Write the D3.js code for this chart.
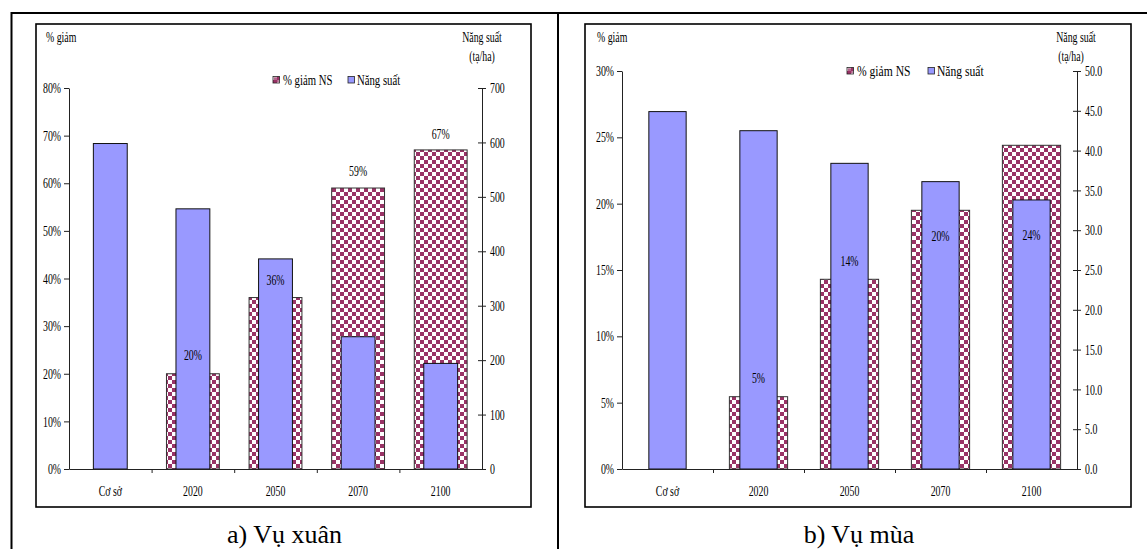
<!DOCTYPE html>
<html>
<head>
<meta charset="utf-8">
<script src="https://cdn.jsdelivr.net/npm/d3@7"></script>
<style>
  html, body { margin: 0; padding: 0; background: #fff; }
  svg { display: block; }
  text { font-family: "Liberation Serif", "Times New Roman", serif; fill: #000; }
</style>
</head>
<body>
<svg id="chart" width="1147" height="549"></svg>
<script>
// Categories shared by both seasons
const categories = ["Cơ sở", "2020", "2050", "2070", "2100"];

// Spring crop (Vụ xuân): yield in tạ/ha and yield reduction
const springYield = [598, 478, 386, 243, 194];
const springDrop = [null, 0.20, 0.36, 0.59, 0.67];

// Summer-autumn crop (Vụ mùa): yield in tạ/ha and yield reduction
const summerYield = [44.9, 42.5, 38.4, 36.1, 33.8];
const summerDrop = [null, 0.0545, 0.143, 0.195, 0.244];

// Axis tick values
const springPctTicks = [0, 0.1, 0.2, 0.3, 0.4, 0.5, 0.6, 0.7, 0.8];
const springYieldTicks = [0, 100, 200, 300, 400, 500, 600, 700];
const summerPctTicks = [0, 0.05, 0.10, 0.15, 0.20, 0.25, 0.30];
const summerYieldTicks = [0, 5, 10, 15, 20, 25, 30, 35, 40, 45, 50];

// Text labels
const legendLabels = ["% giảm NS", "Năng suất"];
const leftTitle = "% giảm";
const rightTitle = ["Năng suất", "(tạ/ha)"];
const captions = ["a) Vụ xuân", "b) Vụ mùa"];

const BLUE = "#9999ff";
const MAROON = "#993366";
const FS = 14.5;  // small chart text size
const SX = 0.68;  // horizontal squeeze of the small chart text

const svg = d3.select("#chart");

// Checkerboard fill for the reduction series
const defs = svg.append("defs");
const cell = 4;
const pat = defs.append("pattern").attr("id", "checker")
  .attr("patternUnits", "userSpaceOnUse")
  .attr("width", cell * 2).attr("height", cell * 2);
pat.append("rect").attr("width", cell * 2).attr("height", cell * 2).attr("fill", "#fff");
pat.append("rect").attr("width", cell).attr("height", cell).attr("fill", MAROON);
pat.append("rect").attr("x", cell).attr("y", cell).attr("width", cell).attr("height", cell).attr("fill", MAROON);

// Squeezed text helper
function label(g, x, y, s, anchor, size, sx) {
  return g.append("text")
    .attr("transform", `translate(${x},${y}) scale(${sx === undefined ? SX : sx},1)`)
    .attr("text-anchor", anchor || "start")
    .attr("font-size", size || FS)
    .text(s);
}

function squeezeAxisText(axisG) {
  axisG.selectAll(".tick text").each(function () {
    const t = d3.select(this);
    const x = +t.attr("x") || 0;
    t.attr("x", 0).attr("transform", `translate(${x},0) scale(${SX},1)`);
  });
}

// Outer table frame
svg.append("line").attr("x1", 11).attr("x2", 1147).attr("y1", 13).attr("y2", 13)
  .attr("stroke", "#000").attr("stroke-width", 2.2);
svg.append("line").attr("x1", 11.5).attr("x2", 11.5).attr("y1", 12).attr("y2", 549)
  .attr("stroke", "#000").attr("stroke-width", 2);
svg.append("line").attr("x1", 558).attr("x2", 558).attr("y1", 12).attr("y2", 549)
  .attr("stroke", "#000").attr("stroke-width", 2);

function drawPanel(cfg) {
  const g = svg.append("g");

  g.append("rect")
    .attr("x", cfg.box[0]).attr("y", cfg.box[1])
    .attr("width", cfg.box[2] - cfg.box[0]).attr("height", cfg.box[3] - cfg.box[1])
    .attr("fill", "#fff").attr("stroke", "#000").attr("stroke-width", 1.6);

  const x = d3.scaleBand().domain(categories).range([cfg.left, cfg.right]);
  const bw = x.bandwidth();
  const yPct = d3.scaleLinear().domain([0, d3.max(cfg.pctTicks)]).range([cfg.bottom, cfg.top]);
  const yVal = d3.scaleLinear().domain([0, d3.max(cfg.valTicks)]).range([cfg.bottom, cfg.top]);

  const dropRows = categories.map((c, i) => ({ c, i, v: cfg.drop[i] })).filter(d => d.v != null);
  const yieldRows = categories.map((c, i) => ({ c, i, v: cfg.yield[i] }));

  const wide = bw * 0.64, narrow = bw * 0.41;

  // Reduction bars (behind)
  g.append("g").selectAll("rect").data(dropRows).join("rect")
    .attr("x", d => x(d.c) + bw / 2 - wide / 2)
    .attr("width", wide)
    .attr("y", d => yPct(d.v))
    .attr("height", d => yPct(0) - yPct(d.v))
    .attr("fill", "url(#checker)")
    .attr("stroke", "#333").attr("stroke-width", 1);

  // Yield bars (front)
  g.append("g").selectAll("rect").data(yieldRows).join("rect")
    .attr("x", d => x(d.c) + bw / 2 - narrow / 2)
    .attr("width", narrow)
    .attr("y", d => yVal(d.v))
    .attr("height", d => yVal(0) - yVal(d.v))
    .attr("fill", BLUE)
    .attr("stroke", "#111").attr("stroke-width", 1);

  // Left axis (percent)
  const ax1 = g.append("g").attr("transform", `translate(${cfg.left},0)`)
    .call(d3.axisLeft(yPct).tickValues(cfg.pctTicks).tickFormat(d3.format(".0%"))
      .tickSizeInner(5).tickSizeOuter(0).tickPadding(3));
  ax1.selectAll("text").attr("font-size", FS).attr("font-family", "Liberation Serif");
  squeezeAxisText(ax1);

  // Right axis (yield)
  const ax2 = g.append("g").attr("transform", `translate(${cfg.right},0)`)
    .call(d3.axisRight(yVal).tickValues(cfg.valTicks).tickFormat(cfg.valFormat)
      .tickSizeInner(4).tickSizeOuter(0).tickPadding(4));
  ax2.selectAll(".tick line").attr("x1", -4);
  ax2.selectAll("text").attr("font-size", FS).attr("font-family", "Liberation Serif");
  squeezeAxisText(ax2);

  // Category axis with ticks on band edges
  const edges = d3.scaleLinear().domain([0, categories.length]).range([cfg.left, cfg.right]);
  const ax3 = g.append("g").attr("transform", `translate(0,${cfg.bottom})`)
    .call(d3.axisBottom(edges).tickValues(d3.range(1, categories.length)).tickFormat("")
      .tickSizeInner(4).tickSizeOuter(0));
  [ax1, ax2, ax3].forEach(a => {
    a.selectAll("path, line").attr("stroke", "#222");
  });

  categories.forEach(c => label(g, x(c) + bw / 2, cfg.bottom + 27, c, "middle"));

  // Reduction value labels
  const fmt = d3.format(".0%");
  dropRows.forEach(d => {
    label(g, x(d.c) + bw / 2, yPct(d.v) + cfg.labelShift[d.i] + 5, fmt(d.v), "middle");
  });

  // Axis titles
  label(g, cfg.leftTitleX, 42, leftTitle, "start");
  label(g, cfg.rightTitleX, 42, rightTitle[0], "middle");
  label(g, cfg.rightTitleX - cfg.unitShift, 61, rightTitle[1], "middle");

  // Legend
  const lg = g.append("g").attr("transform", `translate(${cfg.legend[0]},${cfg.legend[1]})`);
  lg.append("rect").attr("x", 0).attr("y", -3.5).attr("width", 6.5).attr("height", 6.5)
    .attr("fill", "url(#checker)").attr("stroke", "#222").attr("stroke-width", 0.8);
  lg.append("rect").attr("x", 0.8).attr("y", -2.7).attr("width", 5).attr("height", 5)
    .attr("fill", MAROON).attr("opacity", 0.75);
  label(lg, 10, 5, legendLabels[0], "start", FS, cfg.legendSx);
  lg.append("rect").attr("x", cfg.legendGap).attr("y", -3.5).attr("width", 6.5).attr("height", 6.5)
    .attr("fill", BLUE).attr("stroke", "#222").attr("stroke-width", 0.8);
  label(lg, cfg.legendGap + 9, 5, legendLabels[1], "start", FS, cfg.legendSx);

  // Caption
  label(svg, (cfg.box[0] + cfg.box[2]) / 2 + 1, 543, cfg.caption, "middle", 26, 1);
}

drawPanel({
  box: [36, 24, 531, 507],
  left: 69, right: 482, top: 88, bottom: 469,
  pctTicks: springPctTicks, valTicks: springYieldTicks,
  valFormat: d3.format("d"),
  drop: springDrop, yield: springYield,
  labelShift: [0, -19, -18, -17, -16],
  leftTitleX: 46, rightTitleX: 482, unitShift: 0,
  legend: [273, 80], legendGap: 75, legendSx: 0.74,
  caption: captions[0]
});

drawPanel({
  box: [585, 24, 1131, 507],
  left: 622, right: 1077, top: 71, bottom: 469,
  pctTicks: summerPctTicks, valTicks: summerYieldTicks,
  valFormat: d3.format(".1f"),
  drop: summerDrop, yield: summerYield,
  labelShift: [0, -19, -18, 26, 90],
  leftTitleX: 597, rightTitleX: 1076, unitShift: 5,
  legend: [847, 71], legendGap: 81, legendSx: 0.8,
  caption: captions[1]
});
</script>
</body>
</html>
